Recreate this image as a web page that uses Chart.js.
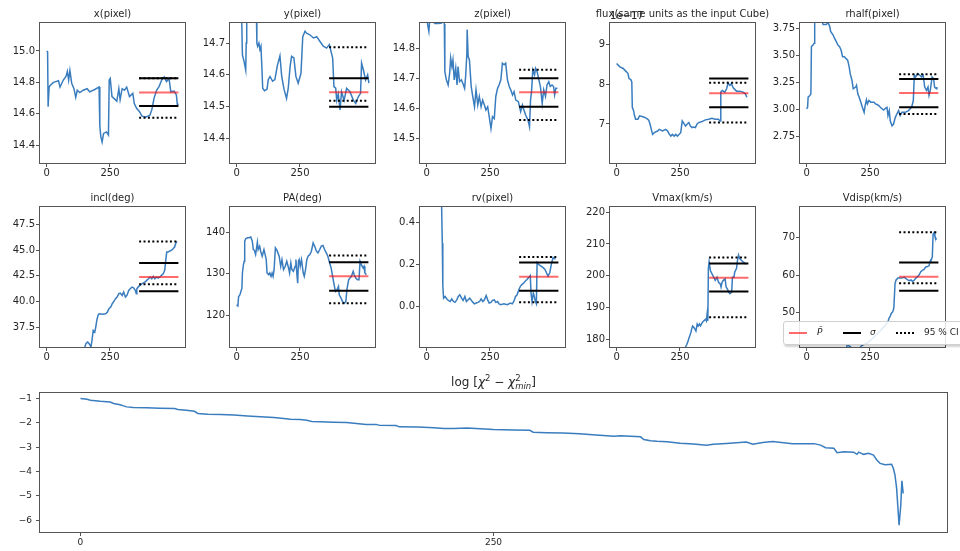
<!DOCTYPE html>
<html><head><meta charset="utf-8">
<script src="https://cdn.jsdelivr.net/npm/chart.js@4.4.0/dist/chart.umd.min.js"></script>
<style>
html,body{margin:0;padding:0;background:#fff;width:960px;height:551px;overflow:hidden;position:relative;}
canvas{position:absolute;}
#legend{position:absolute;left:783px;top:321px;width:200px;height:22px;background:rgba(255,255,255,0.85);border:1px solid #d0d0d0;border-radius:3px;box-shadow:1px 2px 2px rgba(0,0,0,0.18);font-family:'DejaVu Sans',sans-serif;font-size:9px;color:#262626;z-index:5;}
#legend .ln{position:absolute;top:10px;width:18px;height:0;}
#legend .tx{position:absolute;top:5px;line-height:11px;white-space:nowrap;}
</style></head><body>
<div id="legend"></div>
<script>
// ---------------- data ----------------
const paramNames = ['x(pixel)','y(pixel)','z(pixel)','flux(same units as the input Cube)','rhalf(pixel)',
                    'incl(deg)','PA(deg)','rv(pixel)','Vmax(km/s)','Vdisp(km/s)'];
const xTickLabels = ['0','250'];
const chiXTickLabels = ['0','250'];
const yTickLabels = [
  ['14.4','14.6','14.8','15.0'],
  ['14.4','14.5','14.6','14.7'],
  ['14.5','14.6','14.7','14.8'],
  ['7','8','9'],
  ['2.75','3.00','3.25','3.50','3.75'],
  ['37.5','40.0','42.5','45.0','47.5'],
  ['120','130','140'],
  ['0.0','0.2','0.4'],
  ['180','190','200','210','220'],
  ['50','60','70']
];
const chiYTickLabels = ['−6','−5','−4','−3','−2','−1'];
const yLimits = [[14.287,15.178],[14.323,14.763],[14.42,14.883],[6.02,9.53],[2.505,3.803],
                 [35.55,49.23],[112.5,146.0],[-0.19,0.472],[177.7,221.6],[40.7,78.3]];
const xLimits = [-26, 546];
const chiXLimits = [-24.5, 524.5];
const chiYLimits = [-6.48, -0.77];
const fluxOffsetLabel = '1e−17';
const legendLabels = ['P̂','σ','95 % CI'];

// summary lines (P-hat, sigma, 95% CI) for each parameter
const hlineSpan = [365, 520];
const pHat    = [14.735, 14.545, 14.654, 7.771, 3.153, 42.39, 129.4, 0.142, 199.4, 59.6];
const sigmaLo = [14.650, 14.500, 14.606, 7.415, 3.022, 40.99, 125.94, 0.076, 195.1, 55.8];
const sigmaHi = [14.826, 14.589, 14.700, 8.136, 3.284, 43.75, 132.77, 0.209, 203.85, 63.4];
const ciLo    = [14.575, 14.519, 14.562, 7.034, 2.959, 41.67, 122.97, 0.022, 187.0, 57.8];
const ciHi    = [14.826, 14.687, 14.728, 8.034, 3.328, 45.87, 134.38, 0.236, 205.75, 71.5];

// chains: [iteration, value]
const xPixel = [[0,15.0],[4,14.995],[6,14.645],[10,14.77],[14,14.78],[27,14.80],[47,14.81],[53,14.77],[66,14.815],[77,14.84],[82,14.87],[87,14.815],[92,14.875],[99,14.795],[108,14.76],[115,14.705],[121,14.75],[131,14.735],[144,14.75],[160,14.76],[170,14.74],[190,14.755],[207,14.77],[210,14.52],[214,14.455],[219,14.42],[225,14.475],[236,14.485],[244,14.465],[247,14.815],[251,14.825],[258,14.71],[268,14.695],[277,14.68],[285,14.76],[290,14.69],[298,14.76],[307,14.75],[316,14.77],[327,14.71],[340,14.73],[346,14.665],[355,14.635],[366,14.615],[376,14.585],[392,14.58],[407,14.59],[415,14.625],[424,14.70],[434,14.75],[444,14.775],[454,14.815],[464,14.835],[473,14.805],[483,14.825],[490,14.74],[503,14.745],[512,14.72],[516,14.655],[520,14.665]];
const yPixel = [[0,14.95],[15,14.85],[20,14.78],[23,14.663],[30,14.64],[36,14.615],[38,14.70],[40,14.8],[60,14.95],[78,14.8],[80,14.70],[83,14.69],[88,14.70],[92,14.68],[96,14.69],[100,14.62],[103,14.558],[110,14.55],[120,14.555],[125,14.585],[132,14.595],[142,14.58],[151,14.585],[161,14.63],[171,14.66],[178,14.595],[187,14.555],[197,14.526],[204,14.56],[211,14.626],[217,14.658],[226,14.653],[234,14.595],[243,14.574],[254,14.605],[261,14.72],[270,14.737],[276,14.731],[289,14.726],[303,14.716],[316,14.72],[329,14.705],[342,14.69],[355,14.684],[366,14.695],[379,14.653],[384,14.563],[391,14.558],[395,14.52],[401,14.54],[408,14.49],[414,14.547],[424,14.52],[434,14.558],[447,14.547],[461,14.52],[470,14.51],[480,14.531],[489,14.542],[493,14.637],[500,14.616],[509,14.584],[517,14.6],[522,14.574]];
const zPixel = [[0,14.92],[4,14.878],[9,14.855],[13,14.9],[33,14.881],[46,14.881],[59,14.883],[65,14.9],[70,14.88],[72,14.722],[78,14.695],[85,14.678],[91,14.717],[95,14.767],[100,14.739],[104,14.761],[109,14.695],[115,14.734],[120,14.678],[124,14.739],[130,14.689],[137,14.695],[143,14.684],[150,14.667],[154,14.706],[159,14.783],[160,14.861],[164,14.772],[169,14.761],[176,14.673],[182,14.64],[189,14.606],[195,14.662],[202,14.612],[208,14.64],[215,14.606],[221,14.628],[228,14.612],[234,14.595],[241,14.606],[247,14.573],[254,14.534],[260,14.573],[267,14.567],[273,14.64],[280,14.667],[286,14.678],[293,14.695],[299,14.75],[306,14.745],[312,14.75],[319,14.695],[326,14.673],[332,14.662],[339,14.645],[345,14.656],[352,14.628],[362,14.623],[371,14.59],[378,14.612],[384,14.595],[391,14.578],[400,14.562],[406,14.54],[410,14.628],[414,14.656],[419,14.728],[426,14.712],[430,14.733],[436,14.722],[443,14.695],[449,14.673],[456,14.617],[462,14.662],[469,14.64],[475,14.678],[482,14.689],[488,14.673],[495,14.678],[501,14.673],[505,14.645],[510,14.667],[516,14.667]];
const fluxE17 = [[0,8.517],[13,8.432],[26,8.39],[39,8.305],[45,8.263],[49,8.136],[56,8.11],[60,8.05],[62,7.415],[67,7.331],[71,7.203],[75,7.119],[84,7.119],[91,7.203],[104,7.178],[117,7.144],[127,7.093],[132,6.992],[137,6.864],[142,6.737],[149,6.78],[155,6.805],[162,6.822],[168,6.864],[181,6.822],[194,6.864],[201,6.822],[207,6.754],[214,6.695],[220,6.737],[227,6.695],[233,6.737],[240,6.695],[246,6.737],[253,6.78],[259,7.076],[266,7.008],[272,6.949],[278,6.992],[285,7.034],[291,6.949],[298,6.907],[304,6.924],[311,6.907],[317,6.992],[324,7.034],[337,7.059],[350,7.102],[363,7.119],[376,7.144],[389,7.119],[402,7.119],[408,7.076],[411,7.797],[417,7.839],[427,7.797],[434,7.881],[440,8.025],[447,7.966],[453,8.008],[460,7.907],[473,7.822],[486,7.822],[499,7.797],[508,7.754],[514,7.669]];
const rhalf = [[0,3.006],[4,3.022],[6,3.116],[13,3.131],[17,3.147],[19,3.584],[26,3.6],[30,3.616],[32,3.85],[58,3.85],[65,3.788],[78,3.788],[84,3.81],[91,3.772],[95,3.725],[104,3.694],[110,3.662],[117,3.631],[123,3.6],[130,3.584],[136,3.553],[142,3.491],[149,3.491],[155,3.475],[162,3.459],[168,3.397],[172,3.334],[179,3.272],[184,3.194],[194,3.209],[197,3.225],[202,3.147],[207,3.116],[214,3.069],[220,3.022],[227,2.975],[231,3.037],[236,3.091],[240,3.053],[246,3.084],[253,3.069],[266,3.069],[272,3.053],[278,3.047],[285,3.037],[291,3.022],[298,3.006],[304,2.997],[311,3.012],[317,3.022],[321,2.944],[326,2.991],[330,2.897],[337,2.85],[343,2.866],[350,2.928],[356,2.959],[363,2.991],[369,2.944],[376,2.975],[389,2.975],[402,2.991],[408,3.006],[415,3.028],[421,3.084],[425,3.319],[430,3.303],[438,3.334],[447,3.319],[453,3.303],[460,3.319],[466,3.209],[473,3.178],[479,3.209],[483,3.131],[488,3.178],[495,3.303],[501,3.288],[505,3.209],[512,3.194],[514,3.209]];
const incl = [[0,30.5],[100,33.5],[148,35.3],[155,35.87],[162,36.03],[168,35.87],[175,35.55],[179,36.2],[184,37.17],[190,37.01],[194,37.5],[198,38.15],[203,38.64],[207,38.8],[220,38.74],[233,38.8],[240,38.97],[246,39.29],[253,39.45],[259,39.78],[266,40.04],[272,40.27],[278,40.43],[285,40.76],[291,40.82],[298,40.59],[304,40.92],[311,40.43],[317,40.59],[324,41.08],[330,41.25],[337,41.41],[343,41.34],[350,41.08],[354,40.76],[356,41.25],[363,41.47],[369,41.57],[376,41.73],[389,41.9],[395,42.06],[402,42.22],[408,42.39],[415,42.22],[421,42.45],[427,42.22],[434,42.39],[440,42.29],[447,42.39],[453,42.55],[460,42.71],[466,43.04],[470,44.01],[474,44.83],[479,44.83],[486,44.93],[492,44.99],[499,45.15],[505,45.32],[509,45.64],[514,45.87]];
const PA = [[0,122.57],[5,122.33],[8,124.58],[13,124.98],[17,125.78],[21,126.59],[23,130.2],[27,132.21],[30,133.01],[32,137.83],[36,138.39],[43,138.63],[49,138.63],[56,138.8],[62,137.83],[66,135.82],[70,135.66],[75,134.62],[82,137.59],[85,135.82],[91,136.63],[95,135.42],[101,134.22],[108,135.82],[111,135.02],[117,133.41],[120,130.2],[127,129.8],[131,130.2],[136,129.4],[140,130.2],[144,129.4],[148,131.0],[153,136.22],[159,135.66],[163,135.02],[168,134.22],[174,131.81],[179,133.41],[185,131.0],[192,131.81],[198,133.01],[205,131.41],[209,130.2],[214,132.61],[218,131.0],[224,130.6],[231,131.81],[234,133.41],[238,129.8],[241,127.79],[244,133.01],[247,133.41],[251,131.81],[256,133.41],[263,130.2],[267,129.4],[272,131.0],[277,133.41],[282,134.22],[289,134.62],[295,135.42],[302,137.43],[308,136.63],[315,135.42],[321,135.02],[328,135.82],[334,136.63],[341,136.79],[347,135.82],[354,135.02],[360,134.22],[367,132.61],[373,131.41],[380,129.0],[386,126.99],[390,125.78],[396,126.18],[402,126.99],[405,124.98],[412,124.18],[418,123.37],[425,122.97],[431,123.37],[435,126.18],[442,128.59],[447,129.0],[453,129.4],[460,130.6],[464,129.8],[470,129.0],[477,128.59],[483,128.59],[487,133.01],[492,132.21],[499,131.41],[503,131.81],[506,130.2],[512,129.8]];
const rv = [[0,0.6],[58,0.56],[62,0.3],[64,0.1],[67,0.041],[73,0.049],[80,0.037],[86,0.030],[93,0.025],[99,0.037],[106,0.025],[112,0.021],[119,0.033],[125,0.049],[131,0.057],[138,0.041],[144,0.030],[151,0.049],[157,0.025],[164,0.033],[170,0.041],[177,0.030],[183,0.021],[189,0.014],[196,0.018],[202,0.021],[209,0.025],[215,0.037],[222,0.025],[228,0.033],[235,0.053],[241,0.033],[247,0.018],[254,0.021],[260,0.030],[267,0.033],[273,0.021],[280,0.025],[286,0.014],[293,0.010],[305,0.014],[318,0.010],[331,0.018],[338,0.014],[344,0.025],[351,0.049],[357,0.057],[364,0.081],[370,0.097],[376,0.105],[383,0.113],[389,0.121],[396,0.129],[402,0.137],[409,0.148],[412,0.065],[416,0.025],[421,0.065],[425,0.049],[429,0.025],[433,0.014],[436,0.209],[441,0.201],[447,0.196],[454,0.190],[460,0.185],[467,0.177],[473,0.161],[479,0.145],[486,0.161],[492,0.201],[499,0.233],[505,0.228],[509,0.225]];
const Vmax = [[0,160],[150,168],[250,174],[277,178.5],[282,179.6],[286,180.6],[293,182.2],[296,183.3],[300,184.3],[305,183.8],[309,183.3],[313,182.7],[318,184.9],[322,184.3],[327,184.9],[331,184.3],[338,185.4],[344,185.9],[351,186.4],[354,185.9],[357,188.0],[360,185.9],[362,202.3],[365,204.4],[370,201.7],[376,200.7],[383,199.6],[389,198.6],[396,199.6],[402,198.0],[409,197.5],[412,196.5],[416,198.0],[421,198.6],[428,199.1],[432,196.5],[437,195.9],[442,194.9],[447,194.4],[454,194.9],[457,199.6],[463,199.6],[466,201.2],[469,201.7],[473,202.3],[477,204.9],[481,206.5],[486,205.4],[492,204.9],[499,204.4],[505,204.1],[509,203.6]];
const Vdisp = [[0,32],[150,38],[160,41.2],[170,40.9],[180,40.3],[200,39.5],[216,41.0],[230,41.5],[242,41.8],[260,43],[290,45],[310,46.5],[321,47.5],[325,48.4],[330,49.0],[334,49.7],[340,50.2],[344,51.1],[347,55.1],[349,57.8],[353,58.7],[360,59.2],[373,59.2],[386,59.4],[399,58.7],[405,58.5],[412,58.7],[418,58.3],[425,58.7],[431,59.2],[438,59.6],[444,60.1],[451,61.0],[457,61.3],[464,61.6],[470,62.2],[477,62.3],[483,62.5],[487,63.7],[490,64.1],[492,64.1],[496,65.0],[499,70.9],[503,71.4],[506,70.5],[509,70.0],[512,69.5]];
const logChi2 = [[0,-1.0],[4,-1.03],[6,-1.07],[12,-1.11],[18,-1.14],[20,-1.2],[24,-1.25],[26,-1.3],[28,-1.34],[32,-1.37],[40,-1.38],[48,-1.4],[57,-1.41],[59,-1.45],[64,-1.48],[69,-1.52],[71,-1.61],[77,-1.64],[85,-1.65],[93,-1.67],[101,-1.71],[109,-1.75],[117,-1.78],[123,-1.82],[127,-1.85],[133,-1.86],[137,-1.89],[140,-1.94],[145,-1.95],[153,-1.97],[161,-1.98],[167,-2.02],[173,-2.06],[179,-2.06],[181,-2.1],[191,-2.11],[193,-2.16],[204,-2.17],[214,-2.2],[220,-2.23],[226,-2.23],[234,-2.21],[242,-2.24],[250,-2.27],[262,-2.29],[272,-2.3],[274,-2.38],[282,-2.4],[292,-2.41],[302,-2.44],[312,-2.5],[323,-2.55],[327,-2.53],[333,-2.55],[339,-2.57],[341,-2.68],[345,-2.73],[349,-2.75],[355,-2.77],[363,-2.83],[371,-2.87],[379,-2.92],[383,-2.88],[391,-2.84],[403,-2.78],[407,-2.87],[413,-2.8],[419,-2.76],[431,-2.85],[444,-2.85],[448,-2.91],[451,-3.02],[456,-3.04],[458,-3.22],[462,-3.18],[468,-3.2],[470,-3.29],[471,-3.2],[474,-3.29],[477,-3.25],[480,-3.32],[482,-3.52],[484,-3.66],[487,-3.72],[491,-3.7],[492,-3.86],[493,-4.13],[494,-4.68],[495.5,-6.2],[496.5,-5.4],[497.2,-4.38],[498,-4.9]];
const chains = [xPixel, yPixel, zPixel, fluxE17, rhalf, incl, PA, rv, Vmax, Vdisp];

// ---------------- rendering ----------------
Chart.defaults.font.family = "'DejaVu Sans', sans-serif";
Chart.defaults.color = '#262626';
const BLUE = '#3a7dbf';
const RED = 'rgba(255,0,0,0.58)';
const FRAME = '#555555';

const num = l => parseFloat(String(l).replace('−','-'));
const pts = arr => arr.map(p => ({x: p[0], y: p[1]}));
const hline = v => [{x: hlineSpan[0], y: v}, {x: hlineSpan[1], y: v}];

const framePlugin = {
  id: 'frame',
  afterDatasetsDraw(chart) {
    const a = chart.chartArea, c = chart.ctx;
    c.save(); c.strokeStyle = FRAME; c.lineWidth = 1;
    c.strokeRect(Math.round(a.left) - 0.5, Math.round(a.top) - 0.5,
                 Math.round(a.right - a.left) + 1, Math.round(a.bottom - a.top) + 1);
    c.restore();
  }
};

function xAxis(lim, labels, size, h, pad) {
  return {
    type: 'linear', position: 'bottom', min: lim[0], max: lim[1], bounds: 'data',
    afterBuildTicks: s => { s.ticks = labels.map(l => ({value: num(l)})); },
    afterFit: s => { s.height = h; },
    grid: {display: true, drawOnChartArea: false, drawTicks: true, tickLength: 4, color: FRAME, lineWidth: 1},
    border: {display: false},
    ticks: {font: {size: size}, padding: pad, maxRotation: 0, autoSkip: false, callback: (v, i) => labels[i]}
  };
}
function yAxis(lim, labels, size, w, pad) {
  return {
    type: 'linear', position: 'left', min: lim[0], max: lim[1], bounds: 'data',
    afterBuildTicks: s => { s.ticks = labels.map(l => ({value: num(l)})); },
    afterFit: s => { s.width = w; },
    grid: {display: true, drawOnChartArea: false, drawTicks: true, tickLength: 4, color: FRAME, lineWidth: 1},
    border: {display: false},
    ticks: {font: {size: size}, padding: pad, autoSkip: false, callback: (v, i) => labels[i]}
  };
}

function makeCanvas(left, top, w, h) {
  const cv = document.createElement('canvas');
  cv.width = w; cv.height = h;
  cv.style.left = left + 'px'; cv.style.top = top + 'px';
  cv.style.width = w + 'px'; cv.style.height = h + 'px';
  document.body.appendChild(cv);
  return cv;
}

paramNames.forEach((name, i) => {
  const row = Math.floor(i / 5), col = i % 5;
  const cv = makeCanvas(col * 190, row * 184, 225, 183);
  const plugins = [framePlugin];
  if (i === 3) {
    plugins.push({
      id: 'offsetText',
      afterDraw(chart) {
        const c = chart.ctx, a = chart.chartArea;
        c.save(); c.font = "10px 'DejaVu Sans'"; c.fillStyle = '#262626';
        c.textAlign = 'left'; c.textBaseline = 'alphabetic';
        c.fillText(fluxOffsetLabel, a.left, a.top - 4);
        c.restore();
      }
    });
  }
  const dotted = {borderColor: '#000', borderWidth: 2, borderDash: [2, 2.4], order: 1};
  new Chart(cv, {
    type: 'line',
    data: {datasets: [
      {data: pts(chains[i]), borderColor: BLUE, borderWidth: 1.5, order: 5},
      {data: hline(pHat[i]), borderColor: RED, borderWidth: 2, order: 3},
      {data: hline(sigmaLo[i]), borderColor: '#000', borderWidth: 2, order: 2},
      {data: hline(sigmaHi[i]), borderColor: '#000', borderWidth: 2, order: 2},
      Object.assign({data: hline(ciLo[i])}, dotted),
      Object.assign({data: hline(ciHi[i])}, dotted)
    ]},
    options: {
      responsive: false, animation: false, devicePixelRatio: 1,
      layout: {padding: 0},
      elements: {point: {radius: 0, hoverRadius: 0}, line: {tension: 0, borderCapStyle: 'butt'}},
      plugins: {
        legend: {display: false}, tooltip: {enabled: false},
        title: {display: true, text: name, color: '#262626',
                font: {size: 10, weight: 'normal', lineHeight: 1.2}, padding: {top: 8, bottom: 3}}
      },
      scales: {
        x: xAxis(xLimits, xTickLabels, 10, 20, 0),
        y: yAxis(yLimits[i], yTickLabels[i], 10, 40, 1),
        yR: {position: 'right', display: true, afterFit: s => { s.width = 40; },
             grid: {display: false}, border: {display: false}, ticks: {display: false}}
      }
    },
    plugins: plugins
  });
});

// bottom chi^2 panel
const chiTitleParts = [
  {t: 'log [', size: 12},
  {t: 'χ', size: 12, italic: true},
  {t: '2', size: 8.5, dy: -5},
  {t: ' − ', size: 12},
  {t: 'χ', size: 12, italic: true},
  {t: '2', size: 8.5, dy: -5, noAdvance: true},
  {t: 'min', size: 8.5, dy: 3, italic: true},
  {t: ']', size: 12}
];
const chiTitlePlugin = {
  id: 'chiTitle',
  afterDraw(chart) {
    const c = chart.ctx, a = chart.chartArea;
    c.save(); c.fillStyle = '#262626'; c.textAlign = 'left'; c.textBaseline = 'alphabetic';
    const fontOf = p => (p.italic ? 'italic ' : '') + p.size + "px 'DejaVu Sans'";
    let total = 0;
    chiTitleParts.forEach(p => { c.font = fontOf(p); if (!p.noAdvance) total += c.measureText(p.t).width; });
    let x = (a.left + a.right) / 2 - total / 2;
    const base = 21;
    chiTitleParts.forEach(p => {
      c.font = fontOf(p);
      c.fillText(p.t, x, base + (p.dy || 0));
      if (!p.noAdvance) x += c.measureText(p.t).width;
    });
    c.restore();
  }
};
const cvB = makeCanvas(0, 365, 960, 186);
new Chart(cvB, {
  type: 'line',
  data: {datasets: [{data: pts(logChi2), borderColor: BLUE, borderWidth: 1.5}]},
  options: {
    responsive: false, animation: false, devicePixelRatio: 1,
    layout: {padding: {top: 28, right: 13, left: 0, bottom: 0}},
    elements: {point: {radius: 0, hoverRadius: 0}, line: {tension: 0}},
    plugins: {legend: {display: false}, tooltip: {enabled: false}, title: {display: false}},
    scales: {
      x: xAxis(chiXLimits, chiXTickLabels, 9, 19, 1.5),
      y: yAxis(chiYLimits, chiYTickLabels, 9, 40, 4)
    }
  },
  plugins: [framePlugin, chiTitlePlugin]
});

// legend
const lg = document.getElementById('legend');
const legendItems = [
  {line: 'border-top:2px solid ' + RED, lx: 5, tx: 33, italic: true},
  {line: 'border-top:2px solid #000', lx: 59, tx: 86, italic: true},
  {line: 'border-top:2px dotted #000', lx: 112, tx: 140, italic: false}
];
legendItems.forEach((it, k) => {
  const l = document.createElement('div'); l.className = 'ln';
  l.style.cssText = it.line + ';left:' + it.lx + 'px;';
  lg.appendChild(l);
  const t = document.createElement('div'); t.className = 'tx';
  t.style.left = it.tx + 'px'; if (it.italic) t.style.fontStyle = 'italic';
  t.textContent = legendLabels[k];
  lg.appendChild(t);
});
</script>
</body></html>
